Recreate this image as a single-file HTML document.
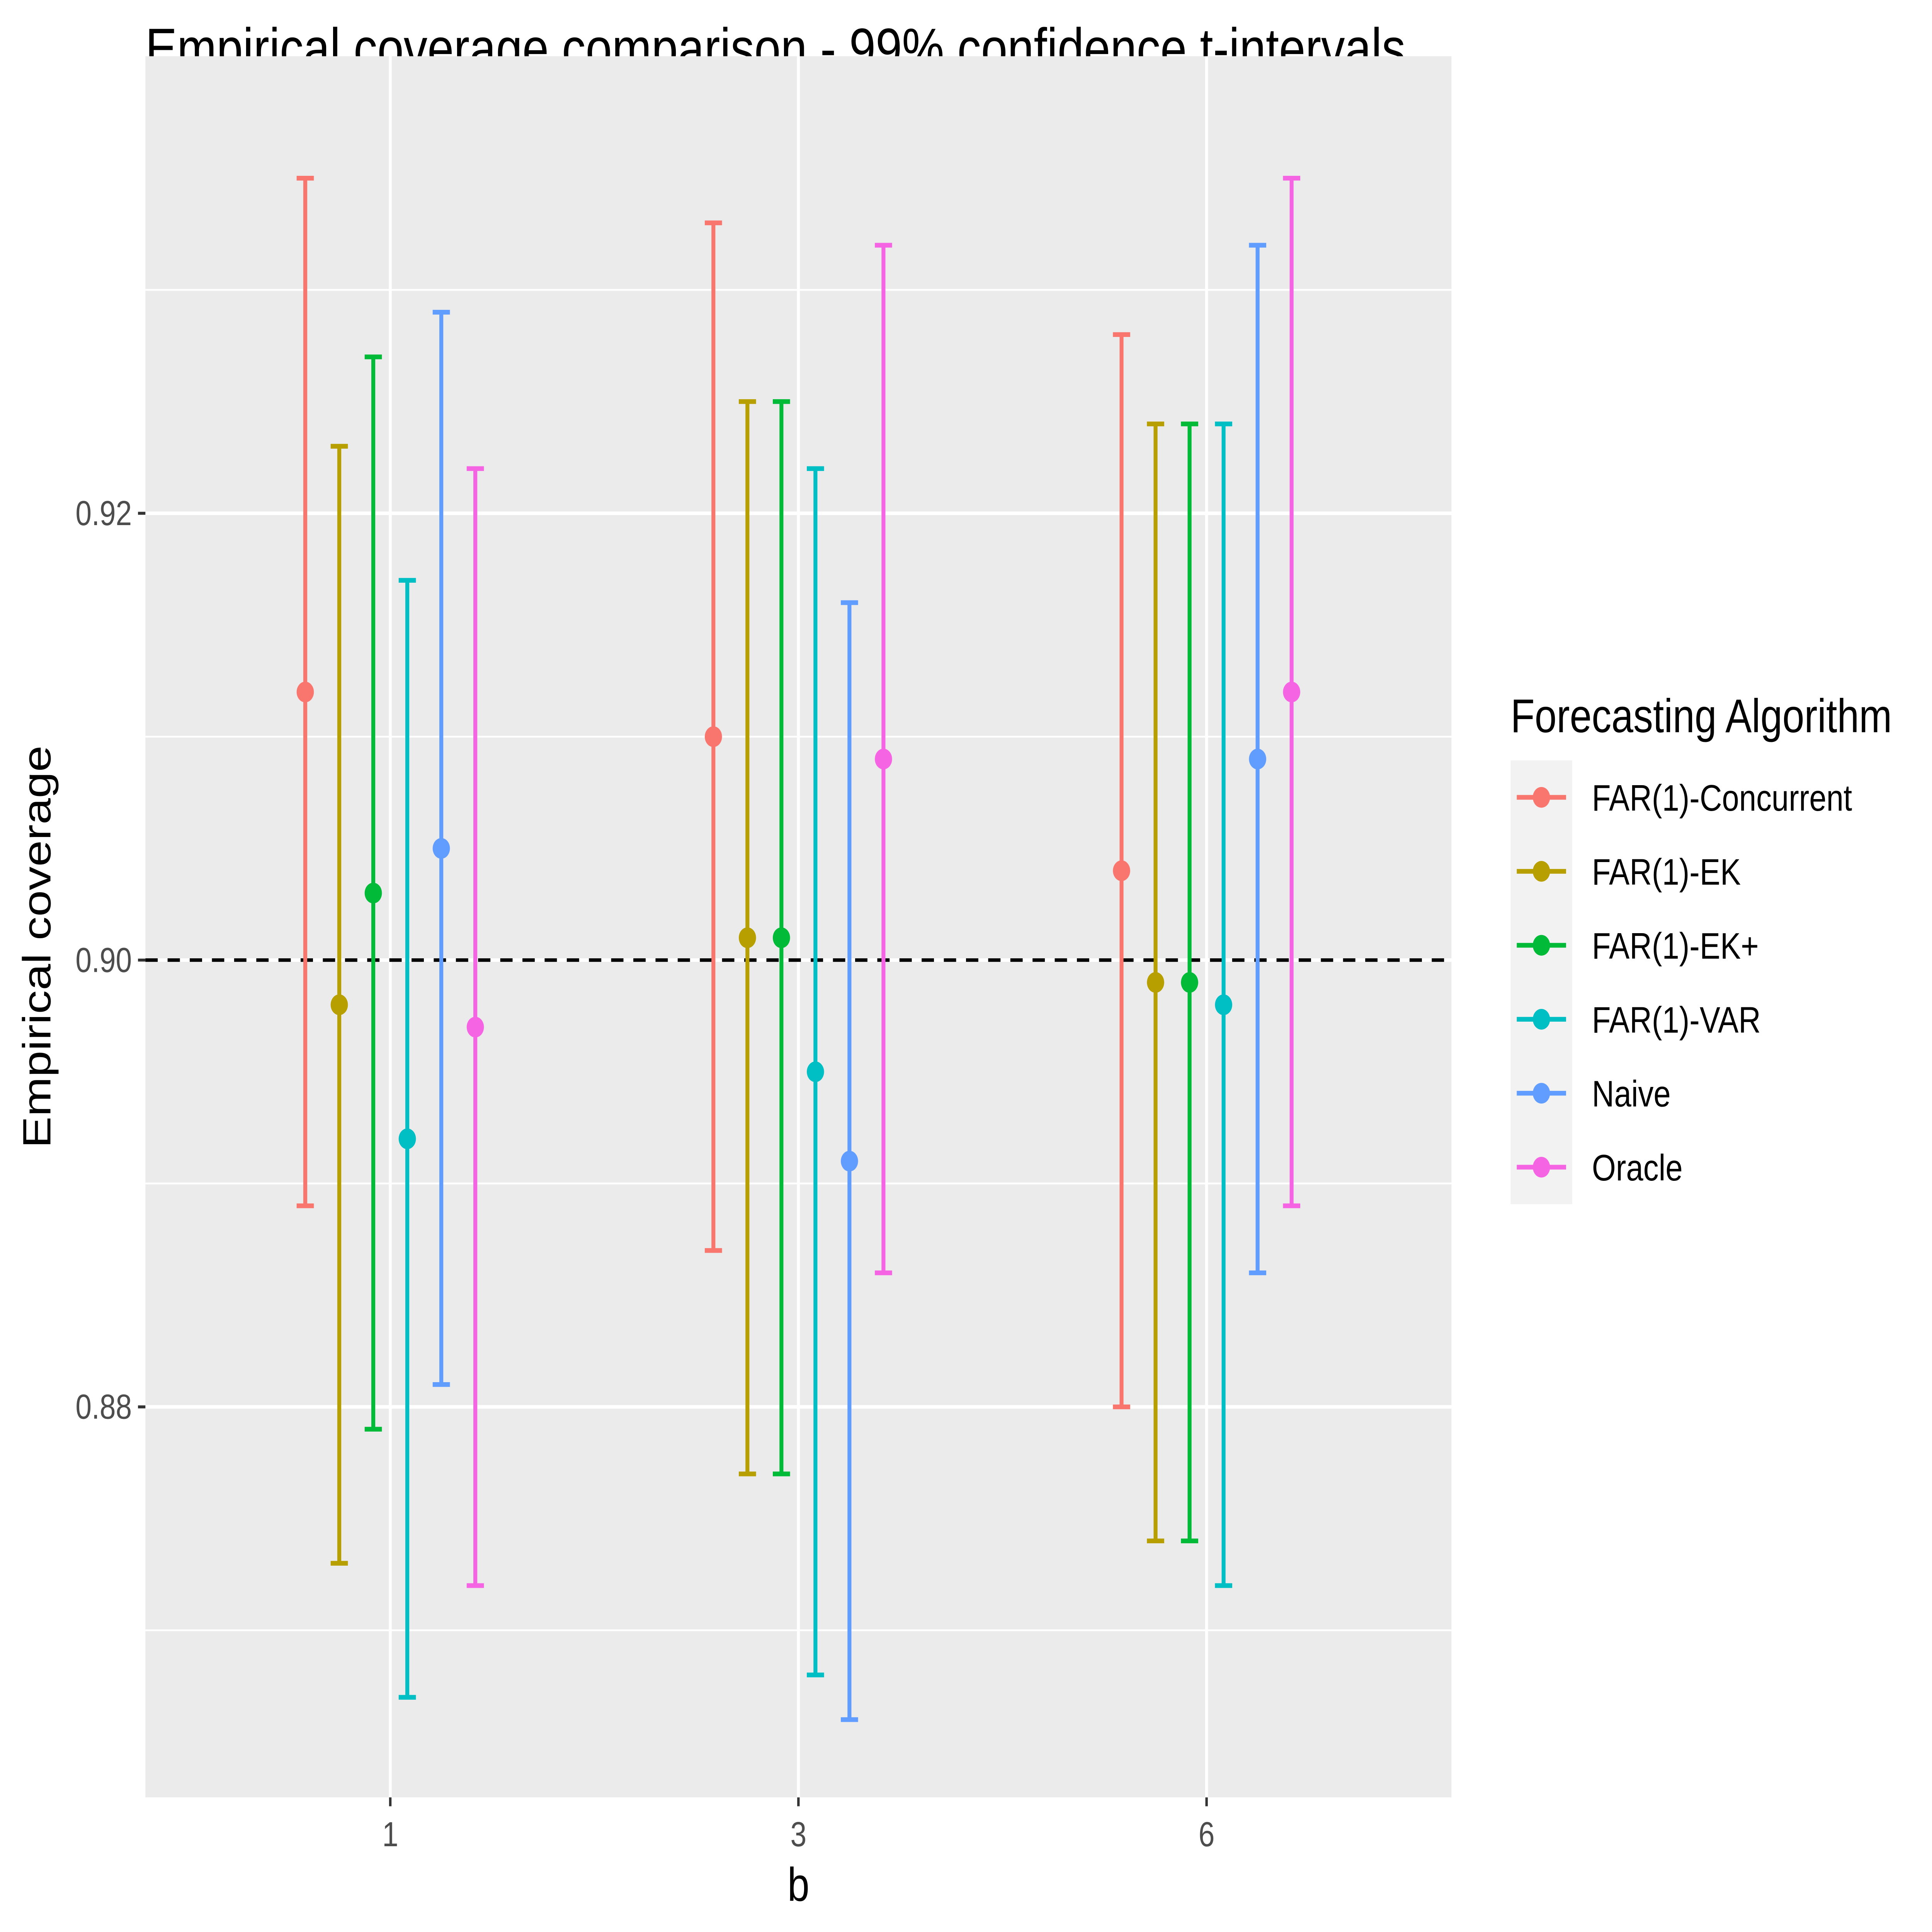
<!DOCTYPE html>
<html><head><meta charset="utf-8"><style>html,body{margin:0;padding:0;background:#fff;width:100%;height:100%;overflow:hidden}#wrap{position:fixed;left:0;top:0;width:100vw;height:100vh;overflow:hidden}svg{display:block;width:100vw;height:100vh}</style></head>
<body>
<div id="wrap">
<svg id="chart" viewBox="0 0 1568 1306" preserveAspectRatio="none" xmlns="http://www.w3.org/2000/svg" font-family="Liberation Sans, Arial, sans-serif">
<rect width="1568" height="1306" fill="#fff"/>
<text x="118" y="46" font-size="38.5" fill="#000">Empirical coverage comparison - 99% confidence t-intervals</text>
<rect x="118" y="38" width="1060" height="1177" fill="#ebebeb"/>
<g id="grid"></g>
<g id="marks"></g>
<g id="axes"></g>
<text transform="translate(41,640) rotate(-90)" text-anchor="middle" font-size="32" fill="#000">Empirical coverage</text>
<text x="648" y="1285" text-anchor="middle" font-size="32" fill="#000">b</text>
<g id="legend">
<text x="1226" y="495" font-size="32" fill="#000">Forecasting Algorithm</text>
<rect x="1226" y="514" width="50" height="300" fill="#f2f2f2"/>
</g>
</svg>
</div>
<script>
const groups = ["1","3","6"];
const series = ["FAR(1)-Concurrent","FAR(1)-EK","FAR(1)-EK+","FAR(1)-VAR","Naive","Oracle"];
const colors = ["#F8766D","#B79F00","#00BA38","#00BFC4","#619CFF","#F564E3"];
const means = [[0.912,0.910,0.904],[0.898,0.901,0.899],[0.903,0.901,0.899],[0.892,0.895,0.898],[0.905,0.891,0.909],[0.897,0.909,0.912]];
const lows  = [[0.889,0.887,0.880],[0.873,0.877,0.874],[0.879,0.877,0.874],[0.867,0.868,0.872],[0.881,0.866,0.886],[0.872,0.886,0.889]];
const highs = [[0.935,0.933,0.928],[0.923,0.925,0.924],[0.927,0.925,0.924],[0.917,0.922,0.924],[0.929,0.916,0.932],[0.922,0.932,0.935]];
const majorTicks = [0.88,0.90,0.92];
const minorTicks = [0.87,0.89,0.91,0.93];
const tickLabels = ["0.88","0.90","0.92"];
const refLine = 0.90;

const NS="http://www.w3.org/2000/svg";
const px0=118,px1=1178,py0=38,py1=1215;
const yMin=0.86252,yMax=0.94046;
function y(v){return py1-(v-yMin)/(yMax-yMin)*(py1-py0);}
const step=(px1-px0)/(groups.length+0.2);
function xg(i){return px0+step*(0.6+i);}
const dodge=step*0.5/series.length;
function xs(i,s){return xg(i)-step*0.25+dodge*(s+0.5);}
function mk(tag,attrs,parent){const e=document.createElementNS(NS,tag);for(const k in attrs)e.setAttribute(k,attrs[k]);parent.appendChild(e);return e;}
const grid=document.getElementById('grid'),marks=document.getElementById('marks'),axes=document.getElementById('axes'),legend=document.getElementById('legend');
minorTicks.forEach(v=>{const l=mk('line',{x1:px0,x2:px1,y1:y(v),y2:y(v),stroke:'#fff','stroke-width':1.2},grid);

});
majorTicks.forEach((v,i)=>{const l=mk('line',{x1:px0,x2:px1,y1:y(v),y2:y(v),stroke:'#fff','stroke-width':2.4},grid);


const t=mk('line',{x1:px0-6,x2:px0,y1:y(v),y2:y(v),stroke:'#333','stroke-width':2},axes);


const tx=mk('text',{x:px0-11,y:y(v)+8,'text-anchor':'end','font-size':23.5,fill:'#4d4d4d'},axes);tx.textContent=tickLabels[i];

});
groups.forEach((g,i)=>{const l=mk('line',{x1:xg(i),x2:xg(i),y1:py0,y2:py1,stroke:'#fff','stroke-width':2.4},grid);


const t=mk('line',{x1:xg(i),x2:xg(i),y1:py1,y2:py1+6,stroke:'#333','stroke-width':2},axes);


const tx=mk('text',{x:xg(i),y:py1+33,'text-anchor':'middle','font-size':23.5,fill:'#4d4d4d'},axes);tx.textContent=g;

});
const ref=mk('line',{x1:px0,x2:px1,y1:y(refLine),y2:y(refLine),stroke:'#000','stroke-width':2.4,'stroke-dasharray':'10,8'},marks);


series.forEach((s,si)=>{groups.forEach((g,gi)=>{const x=xs(gi,si),c=colors[si];
const gr=mk('g',{},marks);


mk('line',{x1:x,x2:x,y1:y(lows[si][gi]),y2:y(highs[si][gi]),stroke:c,'stroke-width':3.2},gr);
mk('line',{x1:x-7,x2:x+7,y1:y(lows[si][gi]),y2:y(lows[si][gi]),stroke:c,'stroke-width':3.2},gr);
mk('line',{x1:x-7,x2:x+7,y1:y(highs[si][gi]),y2:y(highs[si][gi]),stroke:c,'stroke-width':3.2},gr);
const p=mk('circle',{cx:x,cy:y(means[si][gi]),r:7,fill:c},marks);

});
const ly=539+50*si;
const e=mk('g',{},legend);


mk('line',{x1:1231,x2:1271,y1:ly,y2:ly,stroke:colors[si],'stroke-width':3.2},e);
mk('circle',{cx:1251,cy:ly,r:7,fill:colors[si]},e);
const t=mk('text',{x:1292,y:ly+9,'font-size':25,fill:'#000'},e);t.textContent=s;});
</script>
</body></html>
